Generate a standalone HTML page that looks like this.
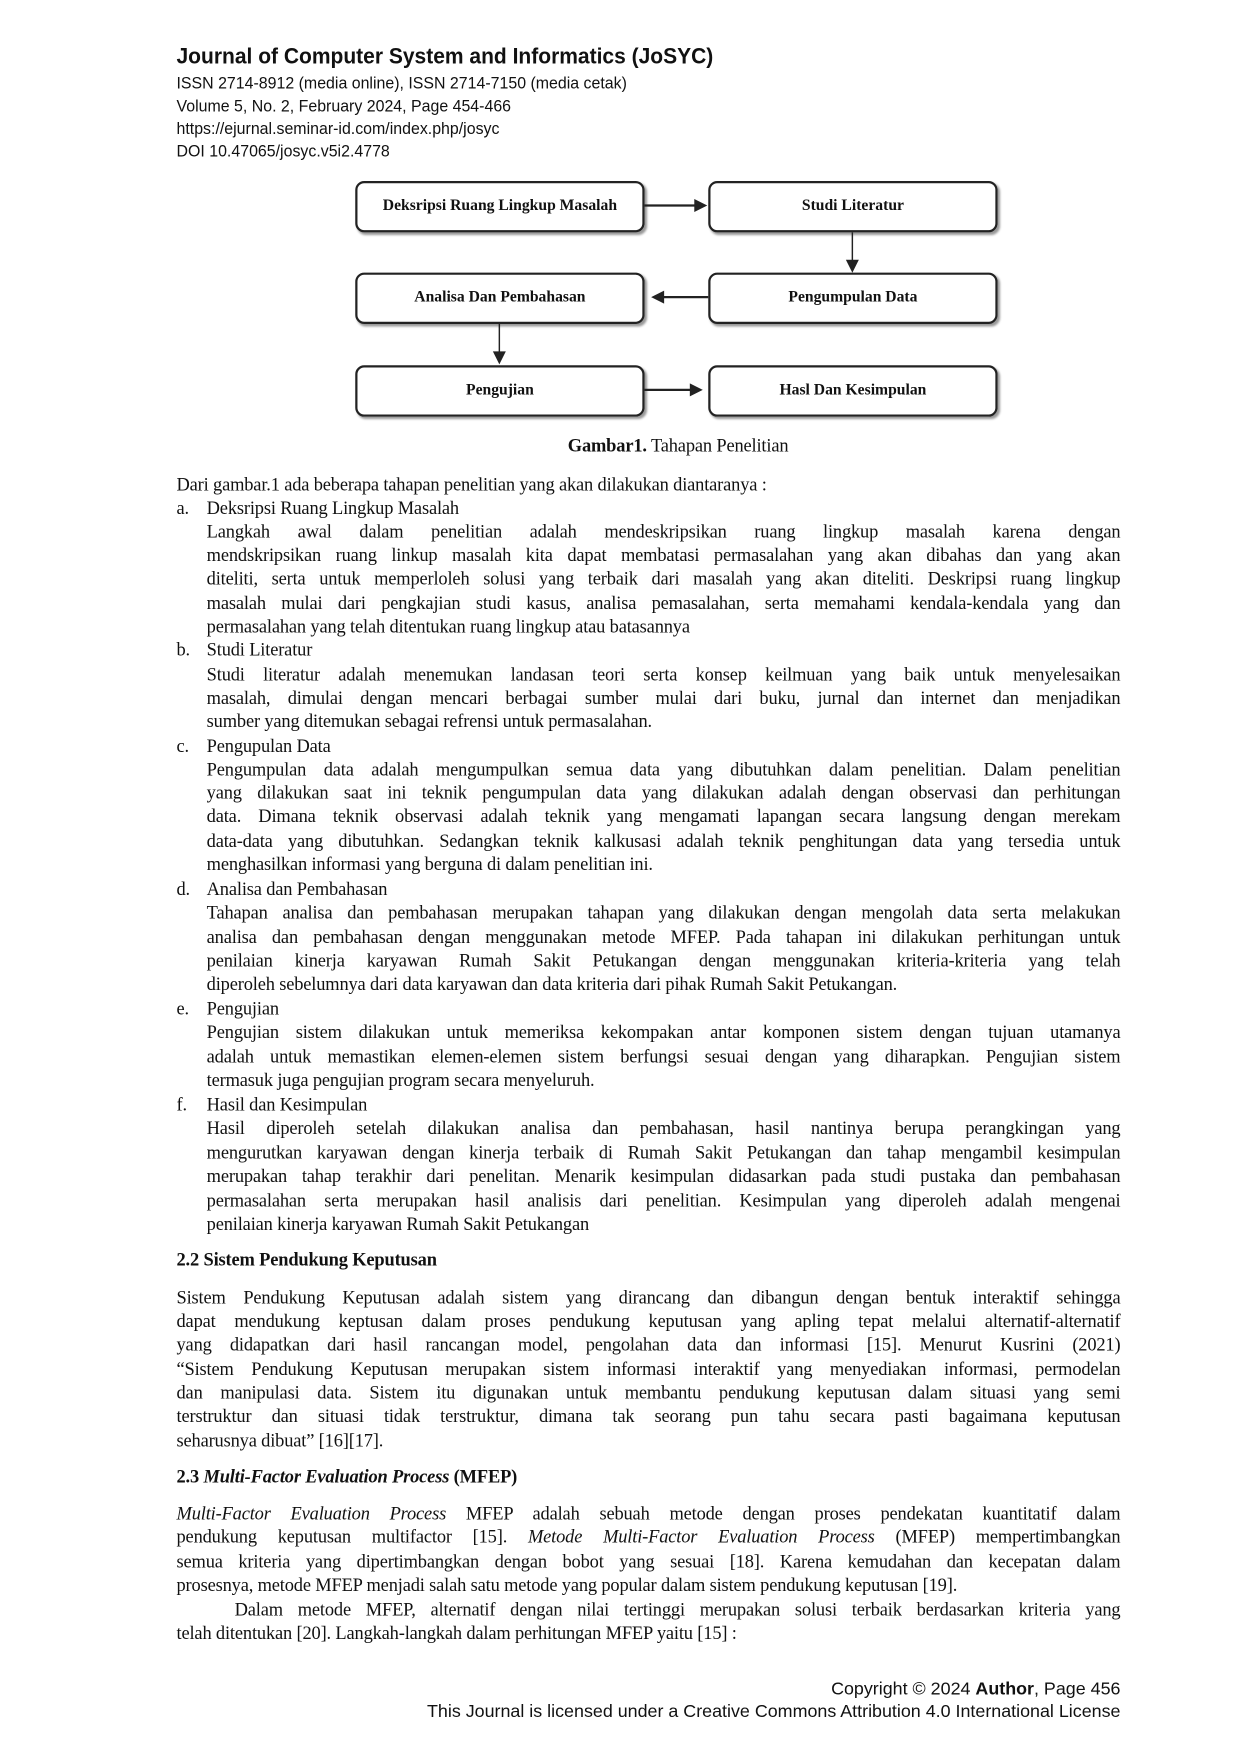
<!DOCTYPE html>
<html><head><meta charset="utf-8"><style>
html,body{margin:0;padding:0;background:#fff;}
body{width:1240px;height:1754px;overflow:hidden;position:relative;}
#p{position:absolute;left:0;top:0;width:1110px;height:1570px;transform:scale(1.11712);transform-origin:0 0;font-family:"Liberation Serif",serif;color:#111;}
.t{position:absolute;font-size:16.5px;letter-spacing:-0.15px;line-height:21px;white-space:nowrap;}
.j{text-align:justify;text-align-last:justify;}
.i{left:185px;width:818px;}
.f{left:158px;width:845px;}
.lb{left:158px;}
.lt{left:185px;}
.s{font-family:"Liberation Sans",sans-serif;}
.h{position:absolute;left:158px;white-space:nowrap;font-family:"Liberation Sans",sans-serif;transform-origin:0 50%;}
.box{position:absolute;width:255px;height:42px;border:2px solid #222;border-radius:8px;box-shadow:2px 2px 2px #999;display:flex;align-items:center;justify-content:center;font-weight:bold;font-size:14px;font-family:"Liberation Serif",serif;}
</style></head><body><div id="p">
<div class="h" style="top:40px;font-size:20px;font-weight:bold;transform:scaleX(0.94)">Journal of Computer System and Informatics (JoSYC)</div>
<div class="h" style="top:66px;font-size:15px;transform:scaleX(0.95)">ISSN 2714-8912 (media online), ISSN 2714-7150 (media cetak)</div>
<div class="h" style="top:87px;font-size:15px;transform:scaleX(0.95)">Volume 5, No. 2, February 2024, Page 454-466</div>
<div class="h" style="top:107px;font-size:15px;transform:scaleX(0.95)">https://ejurnal.seminar-id.com/index.php/josyc</div>
<div class="h" style="top:127px;font-size:15px;transform:scaleX(0.95)">DOI 10.47065/josyc.v5i2.4778</div>

<div class="box" style="left:318px;top:162px">Deksripsi Ruang Lingkup Masalah</div>
<div class="box" style="left:634px;top:162px">Studi Literatur</div>
<div class="box" style="left:318px;top:244px">Analisa Dan Pembahasan</div>
<div class="box" style="left:634px;top:244px">Pengumpulan Data</div>
<div class="box" style="left:318px;top:327px">Pengujian</div>
<div class="box" style="left:634px;top:327px">Hasl Dan Kesimpulan</div>
<svg style="position:absolute;left:0;top:0" width="1110" height="420">
<g stroke="#222" fill="#222">
<line x1="577" y1="184" x2="624" y2="184" stroke-width="2"/><polygon points="632,184 622,179 622,189"/>
<line x1="763" y1="208" x2="763" y2="235" stroke-width="1.3"/><polygon points="763,243 758,233 768,233"/>
<line x1="634" y1="266" x2="592" y2="266" stroke-width="2"/><polygon points="584,266 594,261 594,271"/>
<line x1="447" y1="290" x2="447" y2="317" stroke-width="1.3"/><polygon points="447,325 442,315 452,315"/>
<line x1="577" y1="349" x2="620" y2="349" stroke-width="2"/><polygon points="628,349 618,344 618,354"/>
</g></svg>
<div class="t" style="left:0;width:1214px;text-align:center;top:388px"><b>Gambar1.</b> Tahapan Penelitian</div>

<div class="t lb" style="top:423px">Dari gambar.1 ada beberapa tahapan penelitian yang akan dilakukan diantaranya :</div>
<div class="t lb" style="top:444px">a.</div><div class="t lt" style="top:444px">Deksripsi Ruang Lingkup Masalah</div>
<div class="t i j" style="top:465px">Langkah awal dalam penelitian adalah mendeskripsikan ruang lingkup masalah karena dengan</div>
<div class="t i j" style="top:486px">mendskripsikan ruang linkup masalah kita dapat membatasi permasalahan yang akan dibahas dan yang akan</div>
<div class="t i j" style="top:507px">diteliti, serta untuk memperloleh solusi yang terbaik dari masalah yang akan diteliti. Deskripsi ruang lingkup</div>
<div class="t i j" style="top:529px">masalah mulai dari pengkajian studi kasus, analisa pemasalahan, serta memahami kendala-kendala yang dan</div>
<div class="t lt" style="top:550px">permasalahan yang telah ditentukan ruang lingkup atau batasannya</div>
<div class="t lb" style="top:571px">b.</div><div class="t lt" style="top:571px">Studi Literatur</div>
<div class="t i j" style="top:593px">Studi literatur adalah menemukan landasan teori serta konsep keilmuan yang baik untuk menyelesaikan</div>
<div class="t i j" style="top:614px">masalah, dimulai dengan mencari berbagai sumber mulai dari buku, jurnal dan internet dan menjadikan</div>
<div class="t lt" style="top:635px">sumber yang ditemukan sebagai refrensi untuk permasalahan.</div>
<div class="t lb" style="top:657px">c.</div><div class="t lt" style="top:657px">Pengupulan Data</div>
<div class="t i j" style="top:678px">Pengumpulan data adalah mengumpulkan semua data yang dibutuhkan dalam penelitian. Dalam penelitian</div>
<div class="t i j" style="top:699px">yang dilakukan saat ini teknik pengumpulan data yang dilakukan adalah dengan observasi dan perhitungan</div>
<div class="t i j" style="top:720px">data. Dimana teknik observasi adalah teknik yang mengamati lapangan secara langsung dengan merekam</div>
<div class="t i j" style="top:742px">data-data yang dibutuhkan. Sedangkan teknik kalkusasi adalah teknik penghitungan data yang tersedia untuk</div>
<div class="t lt" style="top:763px">menghasilkan informasi yang berguna di dalam penelitian ini.</div>
<div class="t lb" style="top:785px">d.</div><div class="t lt" style="top:785px">Analisa dan Pembahasan</div>
<div class="t i j" style="top:806px">Tahapan analisa dan pembahasan merupakan tahapan yang dilakukan dengan mengolah data serta melakukan</div>
<div class="t i j" style="top:828px">analisa dan pembahasan dengan menggunakan metode MFEP. Pada tahapan ini dilakukan perhitungan untuk</div>
<div class="t i j" style="top:849px">penilaian kinerja karyawan Rumah Sakit Petukangan dengan menggunakan kriteria-kriteria yang telah</div>
<div class="t lt" style="top:870px">diperoleh sebelumnya dari data karyawan dan data kriteria dari pihak Rumah Sakit Petukangan.</div>
<div class="t lb" style="top:892px">e.</div><div class="t lt" style="top:892px">Pengujian</div>
<div class="t i j" style="top:913px">Pengujian sistem dilakukan untuk memeriksa kekompakan antar komponen sistem dengan tujuan utamanya</div>
<div class="t i j" style="top:935px">adalah untuk memastikan elemen-elemen sistem berfungsi sesuai dengan yang diharapkan. Pengujian sistem</div>
<div class="t lt" style="top:956px">termasuk juga pengujian program secara menyeluruh.</div>
<div class="t lb" style="top:978px">f.</div><div class="t lt" style="top:978px">Hasil dan Kesimpulan</div>
<div class="t i j" style="top:999px">Hasil diperoleh setelah dilakukan analisa dan pembahasan, hasil nantinya berupa perangkingan yang</div>
<div class="t i j" style="top:1021px">mengurutkan karyawan dengan kinerja terbaik di Rumah Sakit Petukangan dan tahap mengambil kesimpulan</div>
<div class="t i j" style="top:1042px">merupakan tahap terakhir dari penelitan. Menarik kesimpulan didasarkan pada studi pustaka dan pembahasan</div>
<div class="t i j" style="top:1064px">permasalahan serta merupakan hasil analisis dari penelitian. Kesimpulan yang diperoleh adalah mengenai</div>
<div class="t lt" style="top:1085px">penilaian kinerja karyawan Rumah Sakit Petukangan</div>

<div class="t lb" style="top:1117px;font-weight:bold">2.2 Sistem Pendukung Keputusan</div>
<div class="t f j" style="top:1151px">Sistem Pendukung Keputusan adalah sistem yang dirancang dan dibangun dengan bentuk interaktif sehingga</div>
<div class="t f j" style="top:1172px">dapat mendukung keptusan dalam proses pendukung keputusan yang apling tepat melalui alternatif-alternatif</div>
<div class="t f j" style="top:1193px">yang didapatkan dari hasil rancangan model, pengolahan data dan informasi [15]. Menurut Kusrini (2021)</div>
<div class="t f j" style="top:1215px">“Sistem Pendukung Keputusan merupakan sistem informasi interaktif yang menyediakan informasi, permodelan</div>
<div class="t f j" style="top:1236px">dan manipulasi data. Sistem itu digunakan untuk membantu pendukung keputusan dalam situasi yang semi</div>
<div class="t f j" style="top:1257px">terstruktur dan situasi tidak terstruktur, dimana tak seorang pun tahu secara pasti bagaimana keputusan</div>
<div class="t lb" style="top:1279px">seharusnya dibuat” [16][17].</div>

<div class="t lb" style="top:1311px;font-weight:bold">2.3 <i>Multi-Factor Evaluation Process</i> (MFEP)</div>
<div class="t f j" style="top:1344px"><i>Multi-Factor Evaluation Process</i> MFEP adalah sebuah metode dengan proses pendekatan kuantitatif dalam</div>
<div class="t f j" style="top:1365px">pendukung keputusan multifactor [15]. <i>Metode Multi-Factor Evaluation Process</i> (MFEP) mempertimbangkan</div>
<div class="t f j" style="top:1387px">semua kriteria yang dipertimbangkan dengan bobot yang sesuai [18]. Karena kemudahan dan kecepatan dalam</div>
<div class="t lb" style="top:1408px">prosesnya, metode MFEP menjadi salah satu metode yang popular dalam sistem pendukung keputusan [19].</div>
<div class="t j" style="left:210px;width:793px;top:1430px">Dalam metode MFEP, alternatif dengan nilai tertinggi merupakan solusi terbaik berdasarkan kriteria yang</div>
<div class="t lb" style="top:1451px">telah ditentukan [20]. Langkah-langkah dalam perhitungan MFEP yaitu [15] :</div>

<div class="t s" style="right:107px;top:1502px;font-size:16px;letter-spacing:0;">Copyright © 2024 <b>Author</b>, Page 456</div>
<div class="t s" style="right:107px;top:1522px;font-size:16px;letter-spacing:0;">This Journal is licensed under a Creative Commons Attribution 4.0 International License</div>
</div></body></html>
